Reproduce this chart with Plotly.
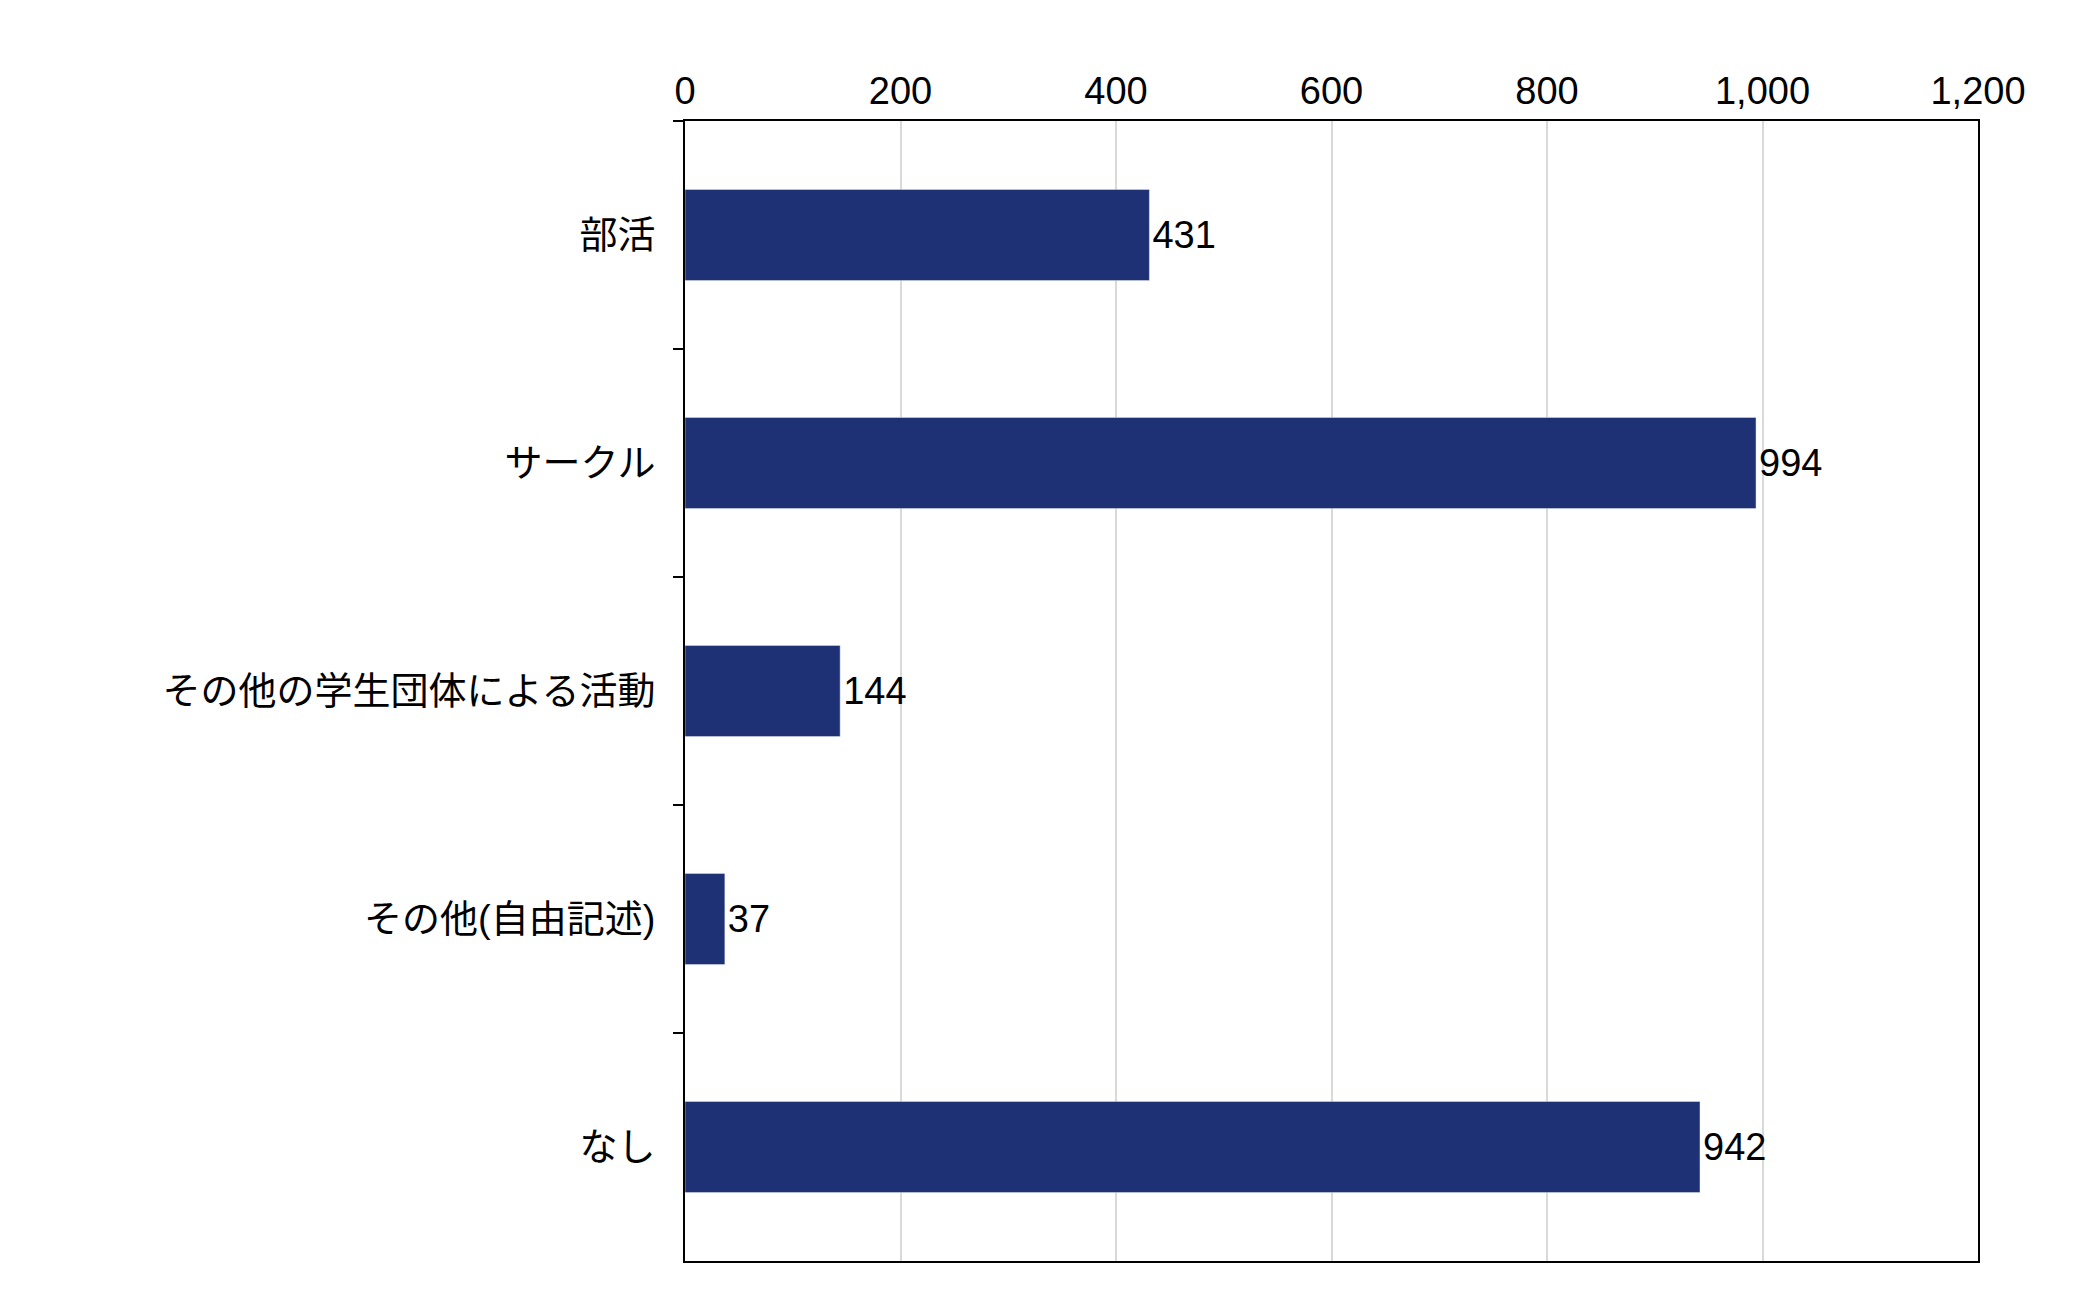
import plotly.graph_objects as go

categories = ["部活", "サークル", "その他の学生団体による活動", "その他(自由記述)", "なし"]
values = [431, 994, 144, 37, 942]
x_ticks = [0, 200, 400, 600, 800, 1000, 1200]
x_tick_labels = ["0", "200", "400", "600", "800", "1,000", "1,200"]

font = "Liberation Sans, Noto Sans CJK JP"

fig = go.Figure(go.Bar(
    y=categories, x=values, orientation="h",
    marker=dict(color="#1f3175"), width=0.4,
    text=[str(v) for v in values], textposition="outside",
    textfont=dict(size=38, color="black", family=font),
    cliponaxis=False,
))
fig.update_layout(
    width=2079, height=1299,
    margin=dict(l=677, r=109, t=113, b=46),
    plot_bgcolor="white", paper_bgcolor="white",
    font=dict(family=font, size=38, color="black"),
    showlegend=False,
)
fig.update_xaxes(
    side="top", range=[0, 1200], tickvals=x_ticks, ticktext=x_tick_labels,
    showgrid=True, gridcolor="#d9d9d9", gridwidth=2,
    showline=True, linecolor="black", linewidth=2, mirror=True,
    ticks="", zeroline=False,
)
fig.update_yaxes(
    categoryorder="array", categoryarray=categories, autorange="reversed",
    showline=True, linecolor="black", linewidth=2, mirror=True,
    ticks="outside", tickson="boundaries", ticklen=10, tickcolor="black", tickwidth=2,
    ticklabelstandoff=20,
)
fig.write_html("out.html")
